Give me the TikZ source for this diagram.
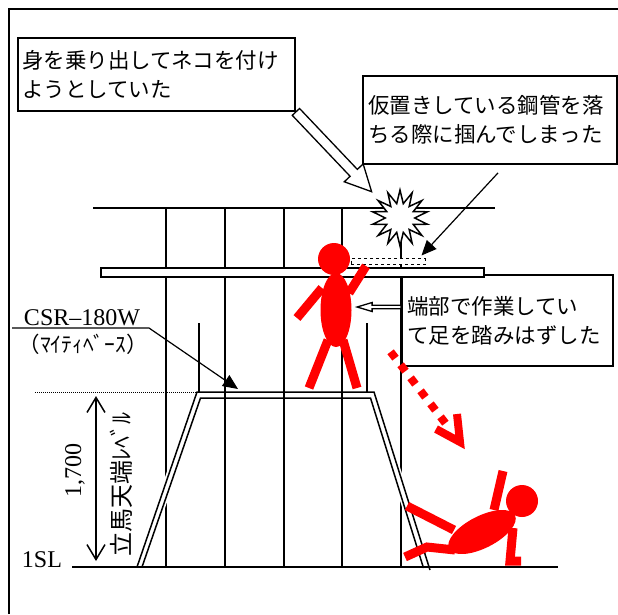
\documentclass[tikz,border=0pt]{standalone}
\usepackage{fontspec}
\setmainfont{Liberation Serif}
\newfontfamily\jp{Noto Sans CJK JP}
\usetikzlibrary{arrows.meta,shapes.geometric}

\begin{document}
\begin{tikzpicture}[x=1pt, y=-1pt, line width=1.5pt,
  every node/.style={font=\fontsize{21.5}{29}\selectfont},
  big/.style={font=\fontsize{24}{29}\selectfont},
  tbox/.style={draw, fill=white, line width=1.8pt, align=left, inner ysep=0pt},
  hollow/.style={draw, fill=white, line width=1.3pt, line join=miter},
  leader/.style={line width=1.2pt, -{Triangle[length=15pt,width=13pt]}},
  dim/.style={{Straight Barb[length=15pt,width=18pt]}-{Straight Barb[length=15pt,width=18pt]}},
  limb/.style={red, line width=9pt},
  gap/.style={white, line width=10pt}]
 \useasboundingbox (0,0) rectangle (618,614);
 \draw[line width=2pt] (9,614) -- (9,9) -- (618,9);

 % scaffold
 \draw (93,208) -- (495,208);
 \foreach \x in {166,225,284,342,401} \draw (\x,208) -- (\x,567);
 \foreach \x in {199,367} \draw (\x,323) -- (\x,392);

 \node[tbox, text width=201pt, inner xsep=5pt, minimum height=91pt] (box3) at (507.5,320.5)
   {\jp 端部で作業してい\\て足を踏みはずした};
 \draw[fill=white] (101,268) rectangle (484,277);
 \node[draw, dashed, fill=white, line width=1pt, minimum width=74pt, minimum height=6pt, inner sep=0pt] (pipe) at (388,261.5) {};
 \node[star, star points=14, star point ratio=1.9, minimum size=56pt, inner sep=0pt, draw, fill=white] (burst) at (400,218) {};

 % mighty base
 \draw[gap, shorten >=9pt] (139.5,567) -- (198.5,395);
 \draw[gap, shorten <=9pt] (372,395) -- (426.5,568);
 \draw (137,567) -- (197,392) -- (374,392) -- (430,570);
 \draw (142,567) -- (200.5,398) -- (370.5,398) -- (423.5,568);
 \draw (72,567) -- (558,567);
 \draw[line width=1pt, densely dotted] (35,392) -- (197,392);
 \coordinate (plat) at (238,389);

 \node[tbox, text width=269pt, inner xsep=4pt, minimum height=73pt] (box1) at (156.5,74.5)
   {\jp 身を乗り出してネコを付け\\ようとしていた};
 \node[tbox, text width=244pt, inner xsep=5pt, minimum height=88pt] (box2) at (490,120)
   {\jp 仮置きしている鋼管を落\\ちる際に掴んでしまった};

 \begin{scope}[shift={(box1.south east)}, rotate=-46.5]
  \draw[hollow] (0,5) -- (84,5) -- (84,13) -- (110,0) -- (84,-13) -- (84,-5) -- (0,-5) -- cycle;
 \end{scope}
 \begin{scope}[shift={(box3.west)}, yshift=13.5pt]
  \draw[hollow] (0,-1.7) -- (-29,-1.7) -- (-29,-4.5) -- (-44,0) -- (-29,4.5) -- (-29,1.7) -- (0,1.7) -- cycle;
 \end{scope}
 \draw[leader] ([shift={(8,8)}]box2.south) -- ([shift={(-4,-2.5)}]pipe.north east);

 \node[big, anchor=base] (csr) at (82,325) {CSR–180W};
 \node[anchor=base] (mighty) at (83,352) {\jp （ﾏｲﾃｨﾍﾞｰｽ）};
 \draw[leader] (12,328) -- (149,328) -- (plat);

 \draw[dim] (96,396) -- (96,561);
 \node[big, rotate=90] (dimval) at (75,470) {1,700};
 \node[big, rotate=90] (lvname) at (121,484) {\jp 立馬天端ﾚﾍﾞﾙ};
 \node[big, anchor=base] (sl) at (42,567) {1SL};

 % worker on the board
 \fill[red] (334,259) circle[radius=16pt];
 \fill[red] (336,310) ellipse[x radius=15.5pt, y radius=37pt];
 \draw[limb] (322,288) -- (297,318);
 \draw[limb] (349,293) -- (366,266);
 \draw[limb] (328,340) -- (309,388);
 \draw[limb] (343,340) -- (357,388);

 % fall
 \draw[red, line width=8pt, dash pattern=on 8pt off 8.4pt] (390.6,351.8) -- (445.4,423.2);
 \draw[red, line width=8pt, line join=miter] (436,429) -- (460,442) -- (457,414);

 \fill[red] (522,501) circle[radius=16pt];
 \fill[red, rotate around={27:(482,532)}] (482,532) ellipse[x radius=37pt, y radius=16pt];
 \draw[limb] (494,510) -- (503,471);
 \draw[limb, line join=miter] (513,528) -- (510,561) -- (521,561);
 \draw[limb] (454,530) -- (407,506);
 \draw[limb, line join=miter] (455,550) -- (427,547) -- (405,557);
\end{tikzpicture}
\end{document}
